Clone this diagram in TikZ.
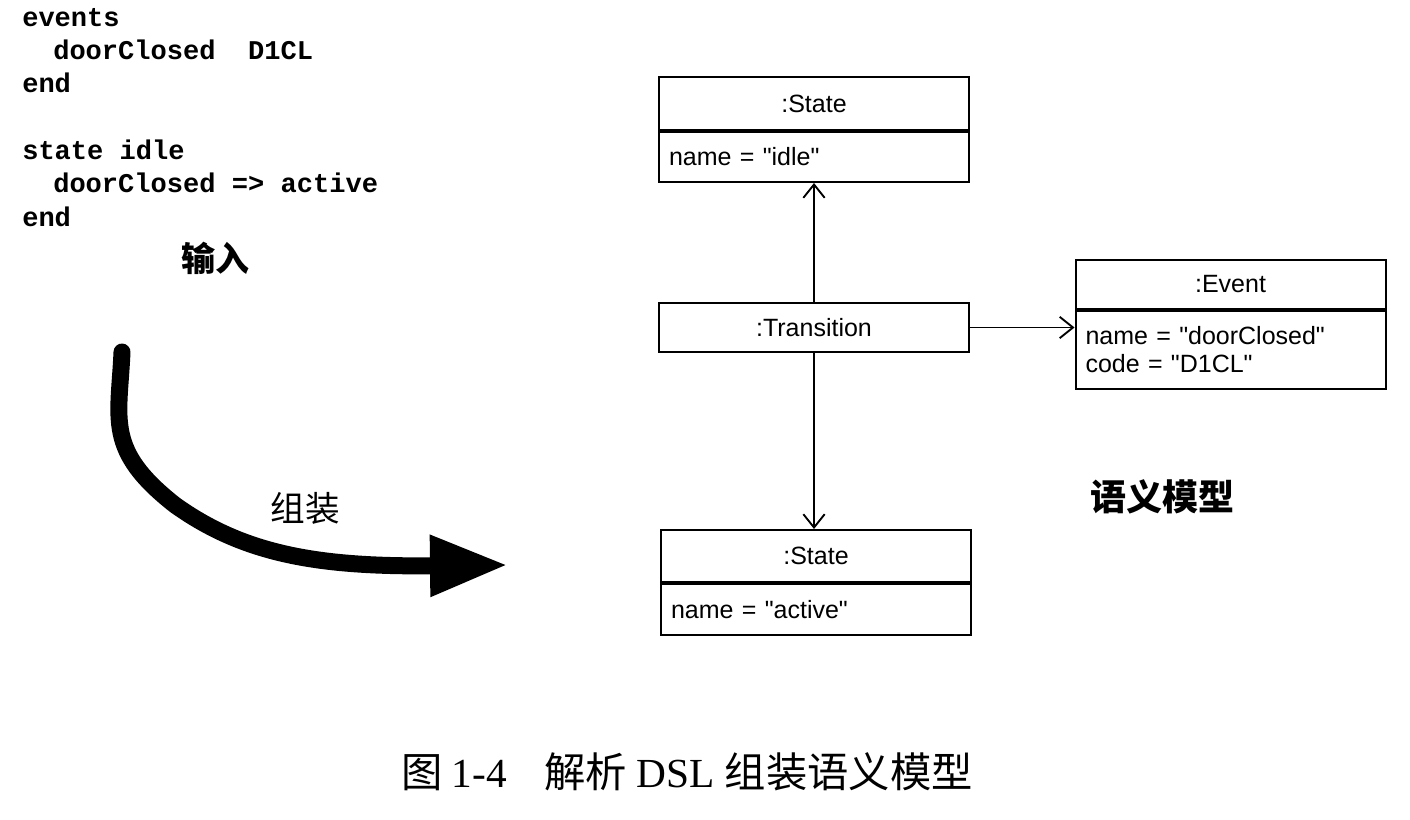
\documentclass[tikz,border=0pt]{standalone}
\usepackage{fontspec}
\usepackage{tikz}
\usetikzlibrary{arrows.meta,positioning}
\newfontfamily\codefont{Liberation Mono}
\newfontfamily\umlfont{Liberation Sans}
\newfontfamily\seriffont{Liberation Serif}
\newfontfamily\cjk{Noto Sans CJK SC}
\tikzset{
  codeline/.style={anchor=base west, inner sep=0pt, font=\codefont\bfseries\fontsize{20.3pt}{24pt}\selectfont},
  objhead/.style={draw, line width=1.5pt, minimum width=232.5pt, inner sep=0pt, font=\umlfont\fontsize{18.75pt}{21pt}\selectfont},
  objbody/.style={draw, line width=1.5pt, minimum width=232.5pt, text width=217.5pt, align=left, inner xsep=7.5pt, inner ysep=0pt, font=\umlfont\fontsize{18.75pt}{21pt}\selectfont},
  link/.style={line width=1.4pt, -{Straight Barb[length=10pt,width=16pt]}},
}
\begin{document}
\begin{tikzpicture}[x=0.75pt,y=0.75pt,yscale=-1,xscale=1]
\path[use as bounding box] (0,0) rectangle (1410,820);

% Text Node
\node[codeline] (evs) at (22,27) {events};
\node[codeline] (evsline) at (53,60) {doorClosed\ \ D1CL};
\node[codeline] (evsend) at (22,93) {end};
\node[codeline] (st) at (22,160) {state idle};
\node[codeline] (stline) at (53,193) {doorClosed => active};
\node[codeline] (stend) at (22,226) {end};
% Text Node
\node[font=\cjk\bfseries\fontsize{25.5pt}{28pt}\selectfont] (input) at (215,258) {输入};

%Shape: Rectangle
\node[objhead, minimum height=39.75pt] (idlehead) at (814,103.5) {:State};
\node[objbody, minimum height=37.5pt, below=0pt of idlehead] (idlebody) {name = "idle"};
%Shape: Rectangle
\node[objhead, minimum height=36.75pt] (trans) at (814,327.5) {:Transition};
%Shape: Rectangle
\node[objhead, minimum height=36.75pt] (eventhead) at (1230.5,284.5) {:Event};
\node[objbody, minimum height=58.5pt, below=0pt of eventhead] (eventbody) {name = "doorClosed"\\code = "D1CL"};
%Shape: Rectangle
\node[objhead, minimum height=39pt] (activehead) at (816,556) {:State};
\node[objbody, minimum height=38.25pt, below=0pt of activehead] (activebody) {name = "active"};

%Straight Lines
\draw[link] (trans.north) -- (idlebody.south);
\draw[link] (trans.south) -- (trans.south |- activehead.north);
\draw[link] (trans.east) -- (trans.east -| eventbody.west);

%Curve Lines
\coordinate (bendstart) at (122,352);
\coordinate (bendend) at (508,565);
\draw[line width=12.75pt, line cap=round, -{Triangle[length=58.5pt,width=43pt]}] (bendstart) .. controls (119,420) and (105,450) .. (175,505) .. controls (245,555) and (320,567) .. (bendend);

% Text Node
\node[font=\cjk\fontsize{26pt}{28pt}\selectfont] (build) at (305,508) {组装};
% Text Node
\node[font=\cjk\bfseries\fontsize{27pt}{30pt}\selectfont] (model) at (1162,497) {语义模型};
% Text Node
\node[font=\fontsize{31pt}{33pt}\selectfont] (caption) at (687,772) {\cjk 图 \seriffont 1-4\hspace{28pt}\cjk 解析 \seriffont DSL \cjk 组装语义模型};

\end{tikzpicture}
\end{document}
